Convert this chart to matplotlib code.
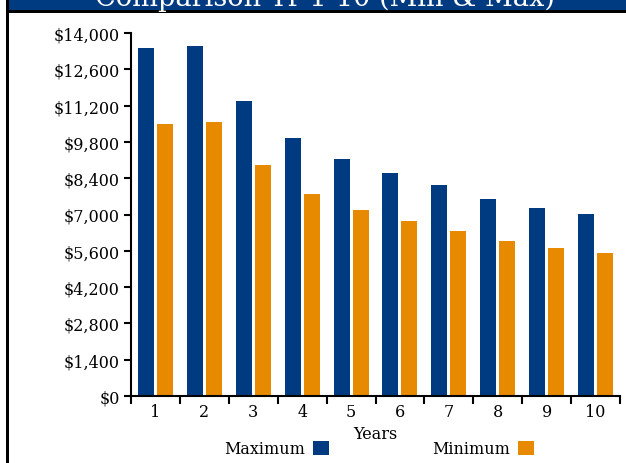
import matplotlib
matplotlib.use("Agg")
import matplotlib.pyplot as plt
from matplotlib.patches import Rectangle
from matplotlib.ticker import FuncFormatter
import numpy as np

years = ["1", "2", "3", "4", "5", "6", "7", "8", "9", "10"]
maximum = [13420, 13500, 11380, 9950, 9140, 8600, 8140, 7600, 7250, 7020]
minimum = [10490, 10570, 8910, 7790, 7170, 6750, 6360, 5980, 5710, 5520]
y_ticks = [0, 1400, 2800, 4200, 5600, 7000, 8400, 9800, 11200, 12600, 14000]

blue = "#003A80"
orange = "#E88A00"

plt.rcParams["font.family"] = "DejaVu Serif"
fs = 11.5

W, H = 626, 464
fig = plt.figure(figsize=(W / 100, H / 100), dpi=100)

# frame bits: title band, rule under it, left border
fig.patches.append(Rectangle((6 / W, 1 - 11 / H), 1, 11 / H, transform=fig.transFigure,
                             facecolor=blue, edgecolor="none", zorder=0))
fig.patches.append(Rectangle((6 / W, 1 - 14 / H), 1, 3 / H, transform=fig.transFigure,
                             facecolor="black", edgecolor="none", zorder=0))
fig.patches.append(Rectangle((6 / W, 0), 3 / W, 1, transform=fig.transFigure,
                             facecolor="black", edgecolor="none", zorder=0))
# title sits mostly above the top edge, as in the original
fig.text(325 / W, 1 - 6.5 / H, "Comparison Yr 1-10 (Min & Max)", color="white",
         fontsize=19.5, ha="center", va="baseline")

ax = fig.add_axes([131 / W, 67 / H, 489 / W, (397 - 34) / H])
x = np.arange(len(years))
ax.bar(x - 0.194, maximum, width=0.327, color=blue, label="Maximum")
ax.bar(x + 0.194, minimum, width=0.327, color=orange, label="Minimum")

ax.set_xlim(-0.5, len(years) - 0.5)
ax.set_ylim(0, 14000)
ax.set_yticks(y_ticks)
ax.yaxis.set_major_formatter(FuncFormatter(lambda v, p: "${:,.0f}".format(v)))
ax.tick_params(axis="y", direction="out", length=5, width=1.5, pad=3, labelsize=fs)

ax.set_xticks(np.arange(len(years) + 1) - 0.5)
ax.set_xticklabels([])
ax.set_xticks(x, minor=True)
ax.set_xticklabels(years, minor=True)
ax.tick_params(axis="x", which="major", direction="out", length=6, width=1.5)
ax.tick_params(axis="x", which="minor", length=0, pad=5, labelsize=fs)
ax.set_xlabel("Years", fontsize=fs, labelpad=4)

for s in ["top", "right"]:
    ax.spines[s].set_visible(False)
for s in ["left", "bottom"]:
    ax.spines[s].set_linewidth(1.5)

ax.legend(loc="center", bbox_to_anchor=(379 / W, 1 - 450 / H), bbox_transform=fig.transFigure,
          ncol=2, frameon=False, markerfirst=False, fontsize=fs, handlelength=1.0,
          handleheight=1.0, handletextpad=0.5, columnspacing=6.5, borderpad=0)

fig.savefig("out.png", dpi=100)
